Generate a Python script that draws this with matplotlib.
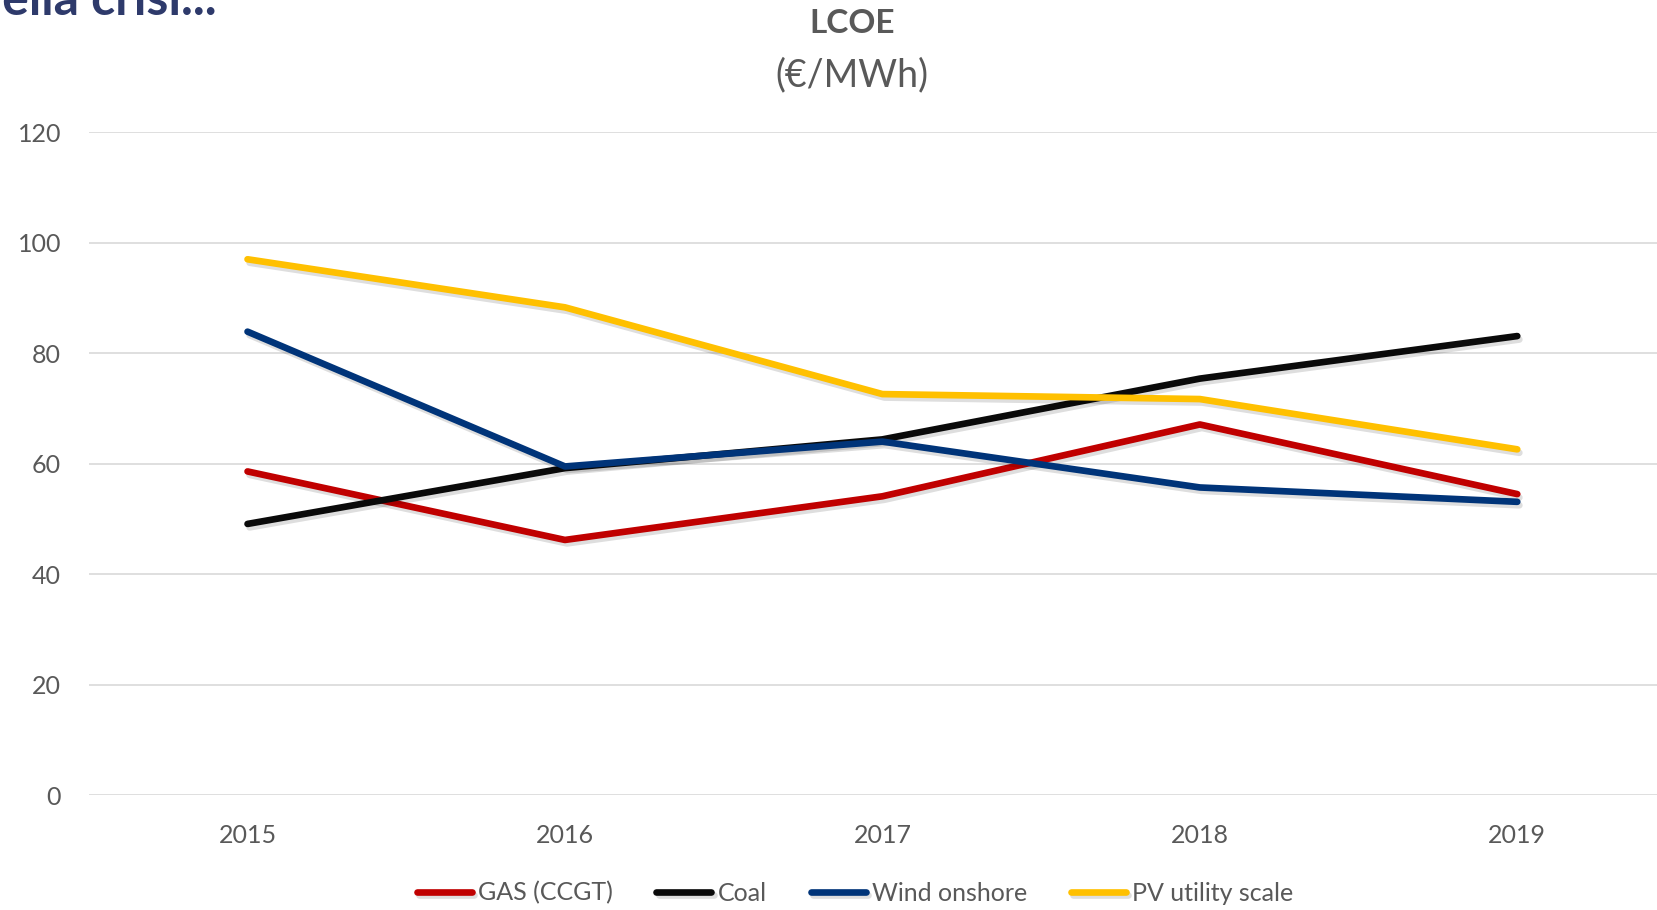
import matplotlib
matplotlib.use("Agg")
import matplotlib.pyplot as plt
import matplotlib.patheffects as pe

years = ["2015", "2016", "2017", "2018", "2019"]
gas = [58.6, 46.2, 54.1, 67.1, 54.5]
coal = [49.1, 59.2, 64.4, 75.4, 83.1]
wind = [83.9, 59.5, 64.0, 55.7, 53.1]
pv = [97.0, 88.3, 72.6, 71.7, 62.6]
series_names = ["GAS (CCGT)", "Coal", "Wind onshore", "PV utility scale"]
series_vals = [gas, coal, wind, pv]
colors = ["#C00000", "#0A0A0A", "#003479", "#FFC000"]
yticks = [0, 20, 40, 60, 80, 100, 120]

plt.rcParams['font.family'] = ['Lato', 'DejaVu Sans']
W, H = 1658, 910
fig = plt.figure(figsize=(W / 100, H / 100), dpi=100)
ax = fig.add_axes([88.8 / W, (H - 795.2) / H, (1676 - 88.8) / W, (795.2 - 132.2) / H])

x = list(range(len(years)))
for name, vals, c in zip(series_names, series_vals, colors):
    ax.plot(x, vals, color=c, lw=4.8, solid_capstyle='round', solid_joinstyle='round', label=name,
            path_effects=[pe.SimpleLineShadow(offset=(1.5, -2.5), shadow_color='black', alpha=0.13),
                          pe.Normal()])

ax.set_xlim(-0.5, len(years) - 0.5)
ax.set_ylim(0, 120)
ax.set_yticks(yticks)
ax.set_xticks(x)
ax.set_xticklabels(years)
ax.grid(axis='y', color='#D9D9D9', lw=1.2)
ax.set_axisbelow(True)
for s in ax.spines.values():
    s.set_visible(False)
ax.tick_params(axis='both', length=0, labelsize=18, labelcolor='#595959')
ax.tick_params(axis='y', pad=20)
ax.tick_params(axis='x', pad=20.5)

fig.text(852 / W, 1 - 33 / H, "LCOE", ha='center', va='baseline', fontsize=24, fontweight='bold', color='#595959')
fig.text(852 / W, 1 - 86 / H, "(€/MWh)", ha='center', va='baseline', fontsize=27, color='#595959')
fig.text(217 / W, 1 - 15 / H, "nella crisi...", ha='right', va='baseline', fontsize=36, fontweight='bold', color='#2E3A6B')

fig.legend(loc='center', bbox_to_anchor=(855 / W, 1 - 893 / H), ncol=4, frameon=False,
           fontsize=18, labelcolor='#595959', handlelength=2.2, handletextpad=0.25, columnspacing=1.75)

fig.savefig("out.png", dpi=100)
